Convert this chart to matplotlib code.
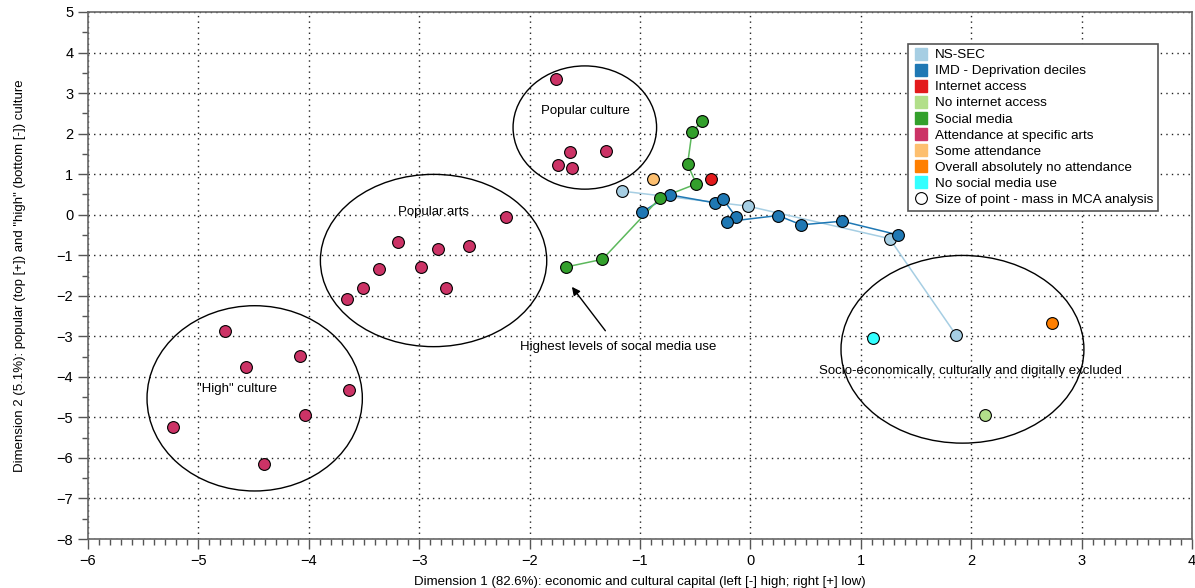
import matplotlib
matplotlib.use('Agg')
import matplotlib.pyplot as plt
from matplotlib.patches import Ellipse
from matplotlib.lines import Line2D
from matplotlib.ticker import MultipleLocator

plt.rcParams['font.family'] = ['Liberation Sans', 'DejaVu Sans']

# MCA coordinates
nssec_x = [-1.16, -0.02, 1.26, 1.86]
nssec_y = [0.58, 0.21, -0.59, -2.96]

imd_x = [-0.98, -0.73, -0.32, -0.25, -0.13, -0.21, 0.25, 0.46, 0.83, 1.34]
imd_y = [0.07, 0.49, 0.29, 0.39, -0.06, -0.17, -0.02, -0.25, -0.16, -0.50]

internet_x = [-0.36]
internet_y = [0.88]

no_internet_x = [2.12]
no_internet_y = [-4.95]

social_x = [-0.44, -0.53, -0.57, -0.49, -0.82, -1.34, -1.67]
social_y = [2.31, 2.03, 1.24, 0.76, 0.41, -1.10, -1.29]

arts_x = [-1.76, -1.63, -1.74, -1.62, -1.31,
          -2.21, -3.19, -2.83, -2.55, -3.36, -2.98, -3.51, -2.76, -3.65,
          -4.76, -4.57, -4.08, -3.64, -4.03, -5.23, -4.41]
arts_y = [3.35, 1.55, 1.23, 1.14, 1.56,
          -0.05, -0.68, -0.84, -0.78, -1.35, -1.30, -1.82, -1.82, -2.09,
          -2.88, -3.76, -3.48, -4.33, -4.93, -5.24, -6.15]

some_att_x = [-0.88]
some_att_y = [0.88]

no_att_x = [2.73]
no_att_y = [-2.68]

no_social_x = [1.11]
no_social_y = [-3.04]

# ellipses round the groups, and their labels
groups = ['"High" culture', 'Popular arts', 'Popular culture',
          'Socio-economically, culturally and digitally excluded']
ell_cx = [-4.49, -2.87, -1.50, 1.92]
ell_cy = [-4.53, -1.13, 2.15, -3.32]
ell_w = [1.95, 2.05, 1.30, 2.20]
ell_h = [4.57, 4.25, 3.04, 4.63]
lab_x = [-4.65, -2.87, -1.49, 1.99]
lab_y = [-4.30, 0.06, 2.55, -3.86]

c_nssec = '#a6cee3'
c_imd = '#1f78b4'
c_int = '#e31a1c'
c_noint = '#b2df8a'
c_soc = '#33a02c'
c_arts = '#cc3366'
c_some = '#fdbf6f'
c_noatt = '#ff7f00'
c_nosoc = '#33ffff'

fig = plt.figure(figsize=(11.95, 5.88), dpi=100)
ax = fig.add_axes([0.0736, 0.0833, 0.924, 0.8963])

mk = dict(marker='o', ms=8.5, mec='black', mew=0.8, zorder=5)

ax.plot(nssec_x, nssec_y, '-', color=c_nssec, lw=1.1, zorder=3)
ax.plot(imd_x, imd_y, '-', color=c_imd, lw=1.1, zorder=3)
ax.plot(social_x, social_y, '-', color='#5cb85c', lw=1.1, zorder=3)

ax.plot(nssec_x, nssec_y, ls='none', mfc=c_nssec, **mk)
ax.plot(imd_x, imd_y, ls='none', mfc=c_imd, **mk)
ax.plot(social_x, social_y, ls='none', mfc=c_soc, **mk)
ax.plot(internet_x, internet_y, ls='none', mfc=c_int, **mk)
ax.plot(no_internet_x, no_internet_y, ls='none', mfc=c_noint, **mk)
ax.plot(arts_x, arts_y, ls='none', mfc=c_arts, **mk)
ax.plot(some_att_x, some_att_y, ls='none', mfc=c_some, **mk)
ax.plot(no_att_x, no_att_y, ls='none', mfc=c_noatt, **mk)
ax.plot(no_social_x, no_social_y, ls='none', mfc=c_nosoc, **mk)

for i in range(len(groups)):
    ax.add_patch(Ellipse((ell_cx[i], ell_cy[i]), ell_w[i], ell_h[i],
                         fill=False, ec='black', lw=1.0, zorder=4))
    ax.text(lab_x[i], lab_y[i], groups[i], ha='center', va='center',
            fontsize=9.5, zorder=6)

ax.annotate('Highest levels of socal media use', xy=(-1.617, -1.78),
            xytext=(-1.20, -3.27), ha='center', va='center', fontsize=9.5,
            arrowprops=dict(arrowstyle='-|>', color='black', lw=1.0,
                            shrinkA=7, shrinkB=0, mutation_scale=12))

ax.set_xlim(-6, 4)
ax.set_ylim(-8, 5)
ax.xaxis.set_major_locator(MultipleLocator(1))
ax.xaxis.set_minor_locator(MultipleLocator(0.1))
ax.yaxis.set_major_locator(MultipleLocator(1))
ax.yaxis.set_minor_locator(MultipleLocator(0.5))
ax.tick_params(which='major', length=7, width=1, color='#555555', labelsize=10.5)
ax.tick_params(which='minor', length=4, width=1, color='#555555')
for s in ax.spines.values():
    s.set_color('#666666')
    s.set_linewidth(1.2)
ax.grid(True, which='major', color='#222222', linestyle=(0, (1, 3)), lw=1.0, zorder=1)
ax.set_axisbelow(True)

ax.set_xlabel('Dimension 1 (82.6%): economic and cultural capital (left [-] high; right [+] low)',
              fontsize=9.5, labelpad=6)
ax.set_ylabel('Dimension 2 (5.1%): popular (top [+]) and "high" (bottom [-]) culture',
              fontsize=9.5, labelpad=22)

leg_labels = ['NS-SEC', 'IMD - Deprivation deciles', 'Internet access', 'No internet access',
              'Social media', 'Attendance at specific arts', 'Some attendance',
              'Overall absolutely no attendance', 'No social media use',
              'Size of point - mass in MCA analysis']
leg_colors = [c_nssec, c_imd, c_int, c_noint, c_soc, c_arts, c_some, c_noatt, c_nosoc]
handles = [Line2D([], [], ls='none', marker='s', ms=8, mfc=c, mec=c) for c in leg_colors]
handles.append(Line2D([], [], ls='none', marker='o', ms=8.5, mfc='white', mec='black', mew=0.8))
leg = ax.legend(handles, leg_labels, loc='upper right', bbox_to_anchor=(0.969, 0.939),
                borderaxespad=0, fontsize=9.7, fancybox=False, framealpha=1,
                edgecolor='#555555', labelspacing=0.27, handletextpad=0.35,
                handlelength=1.3, borderpad=0.35)
leg.get_frame().set_linewidth(1.2)
leg.set_zorder(10)

fig.savefig('out.png', dpi=100)
